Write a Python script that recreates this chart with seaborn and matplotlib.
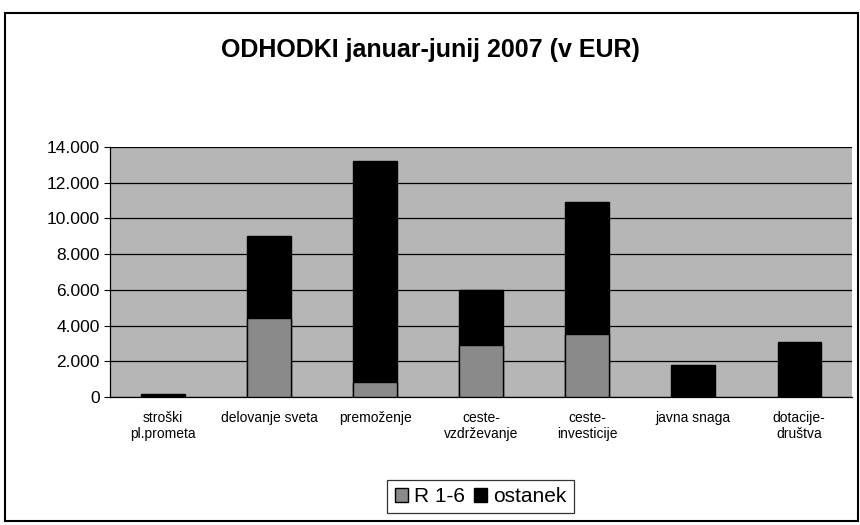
import numpy as np
import pandas as pd
import seaborn as sns
import matplotlib.pyplot as plt
from matplotlib.patches import Patch, Rectangle
from matplotlib.ticker import FuncFormatter

categories = ["stroški\npl.prometa", "delovanje sveta", "premoženje", "ceste-\nvzdrževanje",
              "ceste-\ninvesticije", "javna snaga", "dotacije-\ndruštva"]
r16 = [0, 4400, 850, 2900, 3500, 0, 0]
ostanek = [150, 4600, 12350, 3100, 7400, 1800, 3100]

df = pd.DataFrame({"kategorija": categories, "R 1-6": r16, "ostanek": ostanek})
df["skupaj"] = df["R 1-6"] + df["ostanek"]

sns.set_style("white")
plt.rcParams['font.family'] = ['Liberation Sans Narrow', 'Liberation Sans', 'DejaVu Sans']
plt.rcParams.update({'text.color': 'black', 'xtick.color': 'black',
                     'ytick.color': 'black', 'axes.labelcolor': 'black'})

fig = plt.figure(figsize=(8.6, 5.25), dpi=100)
ax = fig.add_axes([0.128, 0.244, 0.863, 0.476])
ax.set_facecolor('#b6b6b6')

# stacked bars: total in black, R 1-6 drawn over it
sns.barplot(data=df, x="kategorija", y="skupaj", color="black", width=0.41,
            edgecolor="black", linewidth=1, ax=ax, zorder=3)
sns.barplot(data=df, x="kategorija", y="R 1-6", color="#8a8a8a", width=0.41,
            edgecolor="black", linewidth=1, ax=ax, zorder=4)

ax.set_ylim(0, 14000)
ax.set_xlim(-0.5, 6.5)
ax.set_yticks(np.arange(0, 14001, 2000))
ax.yaxis.set_major_formatter(FuncFormatter(lambda v, p: f"{int(v):,}".replace(",", ".")))
ax.grid(axis='y', color='black', linewidth=0.9, zorder=1)
ax.set_axisbelow(True)
ax.set_xlabel("")
ax.set_ylabel("")

ax.set_xticks(np.arange(7))
ax.set_xticklabels(categories, fontsize=10)
ax.tick_params(axis='x', length=0, pad=10)
# small tick marks between categories
ax.set_xticks(np.arange(-0.5, 7.0, 1), minor=True)
ax.tick_params(axis='x', which='minor', length=4, width=0.8, direction='out')
ax.tick_params(axis='y', length=4, width=0.8, direction='out', left=True)
for t in ax.get_yticklabels():
    t.set_family(['Liberation Sans', 'DejaVu Sans'])
    t.set_fontsize(12.5)

for s in ['top', 'right']:
    ax.spines[s].set_visible(False)
ax.spines['left'].set_color('black')
ax.spines['bottom'].set_color('black')
ax.spines['left'].set_linewidth(0.9)
ax.spines['bottom'].set_linewidth(0.9)

fig.text(0.5, 0.905, "ODHODKI januar-junij 2007 (v EUR)", ha='center', va='center',
         fontsize=18, fontweight='bold', family=['Liberation Sans', 'DejaVu Sans'])

# outer frame
fig.patches.append(Rectangle((0.006, 0.008), 0.992, 0.967, transform=fig.transFigure,
                             fill=False, edgecolor='black', linewidth=1.5))

handles = [Patch(facecolor="#8a8a8a", edgecolor="black", label="R 1-6"),
           Patch(facecolor="black", edgecolor="black", label="ostanek")]
leg = fig.legend(handles=handles, loc='center', bbox_to_anchor=(0.559, 0.054), ncol=2,
                 handlelength=0.65, handleheight=0.65, handletextpad=0.3,
                 columnspacing=0.4, frameon=True, fancybox=False, borderpad=0.35,
                 prop={'family': ['Liberation Sans', 'DejaVu Sans'], 'size': 15})
leg.get_frame().set_edgecolor('black')
leg.get_frame().set_linewidth(0.9)

fig.savefig("out.png", dpi=100)
